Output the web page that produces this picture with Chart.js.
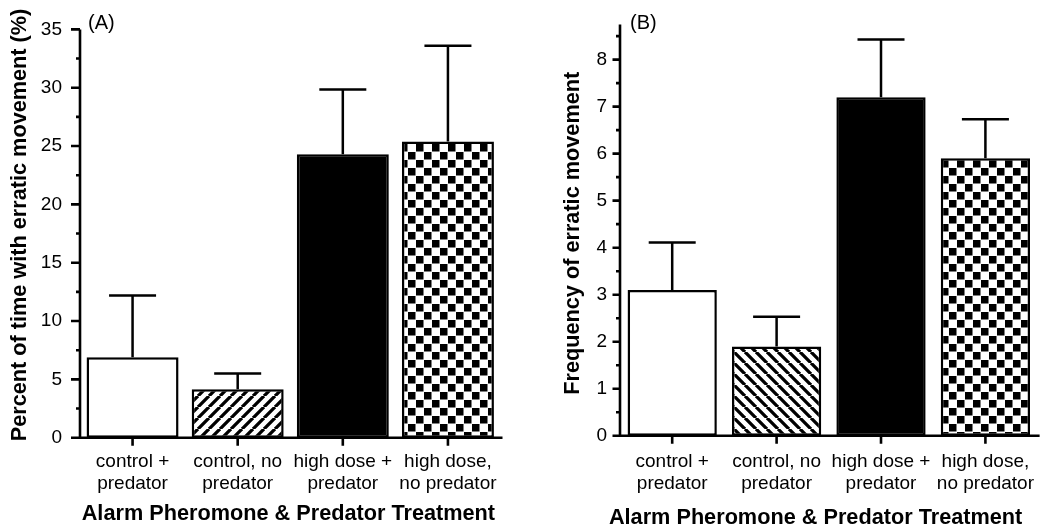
<!DOCTYPE html>
<html><head><meta charset="utf-8">
<script src="https://cdn.jsdelivr.net/npm/chart.js@4.4.1/dist/chart.umd.min.js"></script>
<style>
html,body{margin:0;padding:0;background:#fff;width:1050px;height:528px;overflow:hidden}
.w{position:absolute;top:0;width:525px;height:528px}
canvas{display:block}
</style></head><body>
<div class="w" style="left:0"><canvas id="cA" width="525" height="528"></canvas></div>
<div class="w" style="left:525px"><canvas id="cB" width="525" height="528"></canvas></div>
<script>
// ---------- data ----------
const categories = [["control +","predator"],["control, no","predator"],["high dose +","predator"],["high dose,","no predator"]];
const percentMeans = [6.9, 4.15, 24.3, 25.4];
const percentErrors = [5.3, 1.35, 5.55, 8.2];
const frequencyMeans = [3.1, 1.9, 7.2, 5.9];
const frequencyErrors = [1.01, 0.63, 1.23, 0.83];
const percentTicks = [0,5,10,15,20,25,30,35];
const percentMinorTicks = [2.5,7.5,12.5,17.5,22.5,27.5,32.5];
const frequencyTicks = [0,1,2,3,4,5,6,7,8];
const frequencyMinorTicks = [0.5,1.5,2.5,3.5,4.5,5.5,6.5,7.5,8.5];
const xTitle = "Alarm Pheromone & Predator Treatment";
const yTitleA = "Percent of time with erratic movement (%)";
const yTitleB = "Frequency of erratic movement";

// ---------- patterns ----------
function stripes(dir){
  const s=11, c=document.createElement('canvas'); c.width=s; c.height=s;
  const g=c.getContext('2d'); g.fillStyle='#fff'; g.fillRect(0,0,s,s);
  g.strokeStyle='#000'; g.lineWidth=3.3; g.beginPath();
  for(const k of [-s,0,s]){
    if(dir>0){ g.moveTo(k,s); g.lineTo(k+s,0); }
    else { g.moveTo(k,0); g.lineTo(k+s,s); }
  }
  g.stroke();
  return g.createPattern(c,'repeat');
}
function checker(){
  const s=8, c=document.createElement('canvas'); c.width=2*s; c.height=2*s;
  const g=c.getContext('2d'); g.fillStyle='#fff'; g.fillRect(0,0,2*s,2*s);
  g.fillStyle='#000'; g.fillRect(0,0,s-0.5,s-0.5); g.fillRect(s,s,s-0.5,s-0.5);
  return g.createPattern(c,'repeat');
}

const FONT = "'Liberation Sans', Arial, Helvetica, sans-serif";

const decor = {
  id:'decor',
  afterDatasetsDraw(chart, args, o){
    const ctx=chart.ctx, x=chart.scales.x, y=chart.scales.y, a=chart.chartArea;
    const ds=chart.data.datasets[0], meta=chart.getDatasetMeta(0);
    ctx.save();
    ctx.strokeStyle='#000'; ctx.lineCap='butt';
    // error bars
    ctx.lineWidth=o.errWidth;
    meta.data.forEach((bar,i)=>{
      const xp=bar.x, y0=y.getPixelForValue(ds.data[i]), y1=y.getPixelForValue(ds.data[i]+ds.errors[i]);
      ctx.beginPath(); ctx.moveTo(xp,y0); ctx.lineTo(xp,y1);
      ctx.moveTo(xp-o.cap,y1); ctx.lineTo(xp+o.cap,y1); ctx.stroke();
    });
    // axes
    ctx.lineWidth=o.axisWidth;
    ctx.beginPath();
    ctx.moveTo(a.left, y.getPixelForValue(y.max)); ctx.lineTo(a.left, a.bottom+o.axisWidth/2);
    ctx.moveTo(a.left-o.major, a.bottom); ctx.lineTo(a.right+2, a.bottom);
    y.ticks.forEach(t=>{const p=y.getPixelForValue(t.value); ctx.moveTo(a.left-o.major,p); ctx.lineTo(a.left,p);});
    o.minor.forEach(v=>{const p=y.getPixelForValue(v); ctx.moveTo(a.left-o.minorLen,p); ctx.lineTo(a.left,p);});
    x.ticks.forEach((t,i)=>{const p=x.getPixelForTick(i); ctx.moveTo(p,a.bottom); ctx.lineTo(p,a.bottom+o.xTick);});
    ctx.stroke();
    // texts
    ctx.fillStyle='#000';
    ctx.font='20px '+FONT; ctx.textAlign='left'; ctx.textBaseline='alphabetic';
    ctx.fillText(o.panel, o.panelX, o.panelY);
    ctx.font='bold '+o.titleSize+'px '+FONT; ctx.textAlign='center';
    ctx.fillText(o.xTitle, o.xTitleX, o.xTitleY);
    ctx.translate(o.yTitleX, o.yTitleY); ctx.rotate(-Math.PI/2);
    ctx.fillText(o.yTitle, 0, 0);
    ctx.restore();
  }
};

function makeChart(id, means, errs, colors, ticks, minor, max, geo, deco){
  return new Chart(document.getElementById(id), {
    type:'bar',
    data:{ labels:categories, datasets:[{ data:means, errors:errs, backgroundColor:colors,
      borderColor:'#000', borderWidth:2.5, borderSkipped:false,
      barPercentage:geo.barPct, categoryPercentage:1 }]},
    options:{
      responsive:false, animation:false, devicePixelRatio:1,
      layout:{ padding:{ top:geo.top, right:geo.right, left:0, bottom:0 } },
      plugins:{ legend:{display:false}, tooltip:{enabled:false}, decor:deco },
      scales:{
        x:{ grid:{display:false, drawTicks:false}, border:{display:false},
            ticks:{ color:'#000', padding:geo.xPad, maxRotation:0, autoSkip:false,
              font:{ family:FONT, size:19, lineHeight:22/19 } },
            afterFit:s=>{ s.height = 528 - geo.bottom; } },
        y:{ min:0, max:max, grid:{display:false, drawTicks:false}, border:{display:false},
            afterBuildTicks:s=>{ s.ticks = ticks.map(v=>({value:v})); },
            ticks:{ color:'#000', padding:geo.yPad, font:{ family:FONT, size:19 } },
            afterFit:s=>{ s.width = geo.left; } }
      }
    },
    plugins:[decor]
  });
}

const common = { errWidth:2.5, cap:23.5, axisWidth:2.6, xTick:8, minorLen:4, titleSize:21.7, xTitle:xTitle };

makeChart('cA', percentMeans, percentErrors, ['#fff', stripes(1), '#000', checker()],
  percentTicks, percentMinorTicks, 35,
  { barPct:0.875, top:14.7, right:24.5, bottom:437.7, left:80, xPad:12.7, yPad:18 },
  Object.assign({}, common, { minor:percentMinorTicks, major:9, panel:'(A)', panelX:88, panelY:29,
    xTitleX:288.4, xTitleY:520, yTitle:yTitleA, yTitleX:26, yTitleY:225 }));

makeChart('cB', frequencyMeans, frequencyErrors, ['#fff', stripes(-1), '#000', checker()],
  frequencyTicks, frequencyMinorTicks, 8.75,
  { barPct:0.855, top:15.7, right:8, bottom:435.7, left:95, xPad:15, yPad:13 },
  Object.assign({}, common, { minor:frequencyMinorTicks, major:7.5, panel:'(B)', panelX:105, panelY:29,
    xTitleX:290.6, xTitleY:524, yTitle:yTitleB, yTitleX:54.3, yTitleY:233.3 }));
</script>
</body></html>
